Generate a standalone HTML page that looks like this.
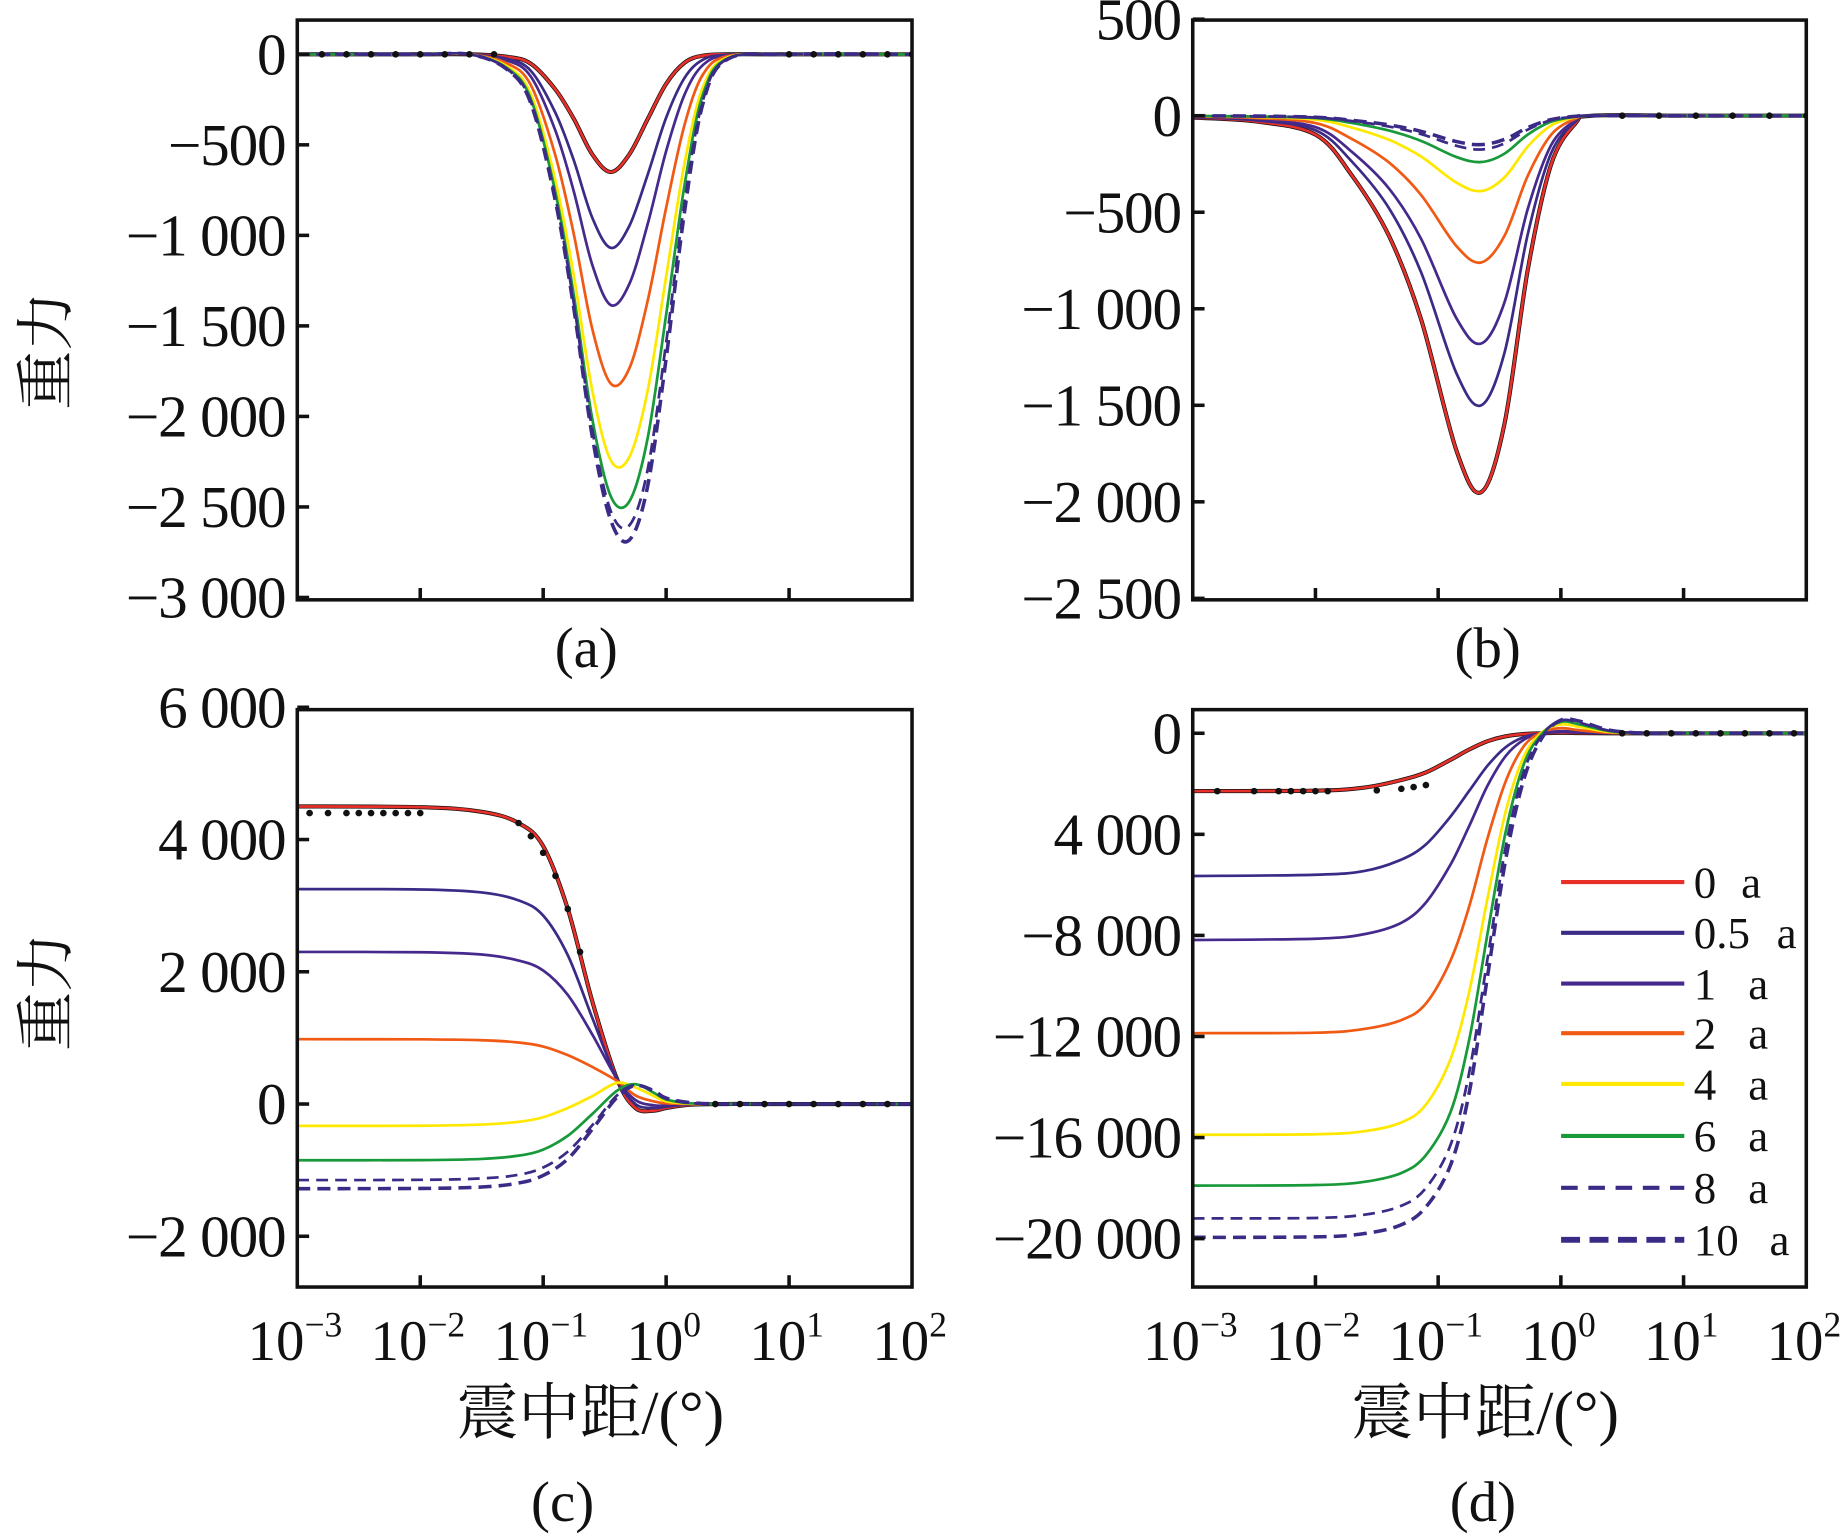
<!DOCTYPE html>
<html><head><meta charset="utf-8"><style>
html,body{margin:0;padding:0;background:#fff;}
svg{display:block;}
text{font-family:"Liberation Serif","Noto Serif CJK SC",serif;fill:#111;}
.cjk{font-family:"Liberation Serif","Noto Serif CJK SC","Noto Sans CJK SC",serif;}
</style></head><body>
<svg id="fig" width="1843" height="1535" viewBox="0 0 1556 1300" preserveAspectRatio="none" xmlns="http://www.w3.org/2000/svg"></svg>
<script>
const seriesNames=["0 a","0.5 a","1 a","2 a","4 a","6 a","8 a","10 a"];
const colors=["#e8302a","#3b2a86","#46298c","#f05a14","#ffe800","#18993a","#3b2a86","#3b2a86"];
const xTickExps=["-3","-2","-1","0","1","2"];
// panel a
const gridA=[-3,-2,-1.6,-1.3,-1.1,-0.9,-0.75,-0.6,-0.45,-0.3,-0.15,0,0.15,0.3,0.5,1,2];
const a0=[0,0,0,-13,-52,-195,-358,-553,-650,-553,-358,-163,-46,-7,0,0,0];
const a05=[0,0,0,-24,-91,-324,-588,-903,-1069,-948,-665,-350,-130,-30,-2,0,0];
const a1=[0,0,0,-33,-123,-423,-761,-1164,-1385,-1269,-938,-535,-222,-59,-5,0,0];
const a2=[0,0,0,-48,-170,-561,-998,-1518,-1819,-1735,-1362,-848,-388,-111,-10,0,0];
const a4=[0,0,0,-64,-221,-699,-1229,-1858,-2243,-2225,-1858,-1229,-600,-181,-17,0,0];
const a6=[0,0,0,-73,-247,-765,-1337,-2016,-2442,-2470,-2120,-1439,-720,-221,-22,0,0];
const a8=[0,0,0,-78,-262,-795,-1382,-2076,-2524,-2602,-2294,-1594,-815,-253,-25,0,0];
const a10=[0,0,0,-81,-271,-813,-1409,-2114,-2575,-2683,-2385,-1680,-867,-271,-27,0,0];
const aTicks=[0,-500,-1000,-1500,-2000,-2500,-3000];
const aTickLabels=["0","\u2212500","\u22121 000","\u22121 500","\u22122 000","\u22122 500","\u22123 000"];
// panel b
const gridB=[-3,-2.5,-2,-1.7,-1.4,-1.14,-0.85,-0.65,-0.46,-0.27,-0.08,0.12,0.26,1,2];
const b0=[-10,-29,-98,-312,-624,-1053,-1736,-1950,-1599,-800,-254,-39,0,0,0];
const b05=[-8,-23,-75,-240,-480,-810,-1335,-1500,-1230,-615,-195,-30,0,0,0];
const b1=[-6,-18,-59,-189,-378,-637,-1050,-1180,-968,-484,-153,-24,0,0,0];
const b2=[-4,-11,-38,-122,-243,-410,-676,-760,-623,-312,-99,-15,0,0,0];
const b4=[-2,-6,-20,-62,-125,-211,-347,-390,-320,-160,-51,-8,0,0,0];
const b6=[-1,-4,-12,-38,-77,-130,-214,-240,-197,-98,-31,-5,0,0,0];
const b8=[-1,-3,-9,-28,-56,-95,-156,-175,-144,-72,-23,-4,0,0,0];
const b10=[-1,-2,-8,-24,-48,-81,-134,-150,-123,-62,-20,-3,0,0,0];
const bTicks=[500,0,-500,-1000,-1500,-2000,-2500];
const bTickLabels=["500","0","\u2212500","\u22121 000","\u22121 500","\u22122 000","\u22122 500"];
// panel c
const gridC=[-3,-2,-1.5,-1.2,-1,-0.8,-0.6,-0.4,-0.25,-0.1,0,0.2,0.5,1,2];
const c0=[4500,4490,4420,4250,3900,2950,1550,380,-60,-100,-60,-10,0,0,0];
const c05=[3250,3245,3200,3080,2850,2250,1300,380,0,-60,-40,-5,0,0,0];
const c1=[2300,2295,2260,2170,2020,1650,1050,380,60,-20,-20,0,0,0,0];
const c2=[980,978,965,930,870,740,560,350,130,40,10,0,0,0,0];
const c4=[-330,-328,-310,-270,-200,-60,120,320,250,120,40,5,0,0,0];
const c6=[-850,-848,-830,-780,-690,-480,-150,200,300,170,70,10,0,0,0];
const c8=[-1150,-1147,-1125,-1070,-960,-720,-320,130,290,190,80,15,0,0,0];
const c10=[-1280,-1277,-1255,-1195,-1080,-830,-380,100,280,200,90,20,0,0,0];
const cTicks=[6000,4000,2000,0,-2000];
const cTickLabels=["6 000","4 000","2 000","0","\u22122 000"];
// panel d
const gridD=[-3,-2,-1.6,-1.3,-1.1,-0.9,-0.75,-0.6,-0.45,-0.3,-0.15,0,0.15,0.4,0.7,1,2];
const d0=[-2290,-2270,-2150,-1850,-1550,-1050,-650,-320,-120,-30,0,20,10,0,0,0,0];
const d05=[-5650,-5600,-5450,-5000,-4400,-3300,-2300,-1300,-550,-150,0,50,30,0,0,0,0];
const d1=[-8180,-8130,-7950,-7500,-6700,-5200,-3700,-2100,-900,-250,0,80,50,10,0,0,0];
const d2=[-11870,-11850,-11700,-11350,-10700,-9000,-6900,-4200,-1900,-500,50,200,120,20,0,0,0];
const d4=[-15890,-15870,-15750,-15400,-14700,-12900,-10300,-6600,-3100,-900,50,350,250,50,0,0,0];
const d6=[-17900,-17880,-17750,-17400,-16700,-15000,-12200,-8000,-3900,-1200,0,450,350,80,0,0,0];
const d8=[-19200,-19180,-19050,-18700,-18000,-16300,-13500,-9000,-4500,-1500,-50,500,420,100,0,0,0];
const d10=[-19950,-19930,-19800,-19450,-18750,-17100,-14300,-9700,-5000,-1800,-150,520,480,120,0,0,0];
const dTicks=[0,-4000,-8000,-12000,-16000,-20000];
const dTickLabels=["0","4 000","\u22128 000","\u221212 000","\u221216 000","\u221220 000"];
// observed dots (log10 x, value)
const obsAx=[-2.8,-2.6,-2.4,-2.2,-2.0,-1.8,-1.6,-1.4,1.0,1.2,1.4,1.6,1.8,2.0];
const obsCx=[-2.9,-2.75,-2.6,-2.5,-2.4,-2.3,-2.2,-2.1,-2.0,-1.2,-1.1,-1.0,-0.9,-0.8,-0.7,0.4,0.6,0.8,1.0,1.2,1.4,1.6,1.8];
const obsCv=[4400,4400,4400,4400,4400,4400,4400,4400,4400,4250,4050,3800,3450,2950,2300,0,0,0,0,0,0,0,0];
const obsDx=[-2.8,-2.5,-2.3,-2.2,-2.1,-2.0,-1.9,-1.5,-1.3,-1.2,-1.1,0.5,0.7,0.9,1.1,1.3,1.5,1.7,1.9];
const obsDv=[-2290,-2290,-2290,-2290,-2290,-2290,-2290,-2260,-2200,-2130,-2050,0,0,0,0,0,0,0,0];

const NS="http://www.w3.org/2000/svg";
const svg=document.getElementById('fig');
function el(tag,attrs,parent){const e=document.createElementNS(NS,tag);for(const k in attrs)e.setAttribute(k,attrs[k]);(parent||svg).appendChild(e);return e;}

function pathFrom(pts){
  let d="M"+pts[0][0].toFixed(1)+","+pts[0][1].toFixed(1);
  for(let i=0;i<pts.length-1;i++){
    const p0=pts[Math.max(0,i-1)],p1=pts[i],p2=pts[i+1],p3=pts[Math.min(pts.length-1,i+2)];
    const c1x=p1[0]+(p2[0]-p0[0])/6,c1y=p1[1]+(p2[1]-p0[1])/6;
    const c2x=p2[0]-(p3[0]-p1[0])/6,c2y=p2[1]-(p3[1]-p1[1])/6;
    d+=" C"+c1x.toFixed(1)+","+c1y.toFixed(1)+" "+c2x.toFixed(1)+","+c2y.toFixed(1)+" "+p2[0].toFixed(1)+","+p2[1].toFixed(1);
  }
  return d;
}

function panel(cfg){
  const g=el('g',{});
  
  
  const L=cfg.L,R=cfg.R,T=cfg.T,B=cfg.B;
  const xs=lx=>L+(lx+3)/5*(R-L);
  const ys=v=>cfg.y0+(v-cfg.v0)*(cfg.y1-cfg.y0)/(cfg.v1-cfg.v0);
  const clip=el('clipPath',{id:'clip-'+cfg.name},g);
  el('rect',{x:L,y:T,width:R-L,height:B-T},clip);
  const cg=el('g',{'clip-path':'url(#clip-'+cfg.name+')'},g);
  const blk=el('path',{d:pathFrom(cfg.grid.map((lx,i)=>[xs(lx),ys(cfg.series[0][i])])),fill:'none',stroke:'#111','stroke-width':3.5},cg);
  
  
  for(let s=0;s<8;s++){
    const p=el('path',{d:pathFrom(cfg.grid.map((lx,i)=>[xs(lx),ys(cfg.series[s][i])])),fill:'none',stroke:colors[s],'stroke-width':s==7?3:2.3},cg);
    if(s==6)p.setAttribute('stroke-dasharray','10 6');
    if(s==7)p.setAttribute('stroke-dasharray','11 6');
    
    
  }
  if(cfg.obsX){
    cfg.obsX.forEach((lx,i)=>{
      const c=el('circle',{cx:xs(lx),cy:ys(cfg.obsV[i]),r:2.8,fill:'#111'},cg);
      
      
    });
  }
  const fr=el('rect',{x:L,y:T,width:R-L,height:B-T,fill:'none',stroke:'#111','stroke-width':3},g);
  
  
  cfg.ticks.forEach((v,i)=>{
    const y=ys(v);
    el('line',{x1:L,x2:L+10,y1:y,y2:y,stroke:'#111','stroke-width':3},g);
    const t=el('text',{x:L-10,y:y+17,'text-anchor':'end','font-size':50,'letter-spacing':'-1'},g);
    t.textContent=cfg.tickLabels[i];
    
    
  });
  for(let k=1;k<5;k++){
    const x=xs(k-3);
    el('line',{x1:x,x2:x,y1:B,y2:B-10,stroke:'#111','stroke-width':3},g);
  }
  if(cfg.xlabels){
    xTickExps.forEach((e,k)=>{
      const x=xs(k-3);
      const t=el('text',{x:x-2,y:B+62,'text-anchor':'middle','font-size':48},g);
      t.textContent="10";
      const sp=el('tspan',{'font-size':30,dy:-20},t);
      sp.textContent=e.replace('-','\u2212');
      
      
    });
    const xt=el('text',{x:(L+R)/2-12,y:B+124,'text-anchor':'middle','font-size':52,class:'cjk'},g);
    xt.textContent="震中距/(°)";
    
    
  }
  const cap=el('text',{x:cfg.capX,y:cfg.capY,'text-anchor':'middle','font-size':48},g);
  cap.textContent=cfg.cap;
  
  
  if(cfg.ylabel){
    const yt=el('text',{x:0,y:0,'text-anchor':'middle','font-size':50,class:'cjk',transform:'translate(56,'+cfg.ylabelY+') rotate(-90)'},g);
    yt.textContent="重力";
    
    
  }
}

panel({name:'panel-a',L:251,R:770,T:17,B:508,y0:46,v0:0,y1:506,v1:-3000,grid:gridA,series:[a0,a05,a1,a2,a4,a6,a8,a10],ticks:aTicks,tickLabels:aTickLabels,cap:"(a)",capX:495,capY:565,ylabel:true,ylabelY:297,obsX:obsAx,obsV:obsAx.map(()=>0)});
panel({name:'panel-b',L:1007,R:1525,T:17,B:508,y0:98,v0:0,y1:425,v1:-2000,grid:gridB,series:[b0,b05,b1,b2,b4,b6,b8,b10],ticks:bTicks,tickLabels:bTickLabels,cap:"(b)",capX:1256,capY:565,obsX:[0.5,0.8,1.1,1.4,1.7,2.0],obsV:[0,0,0,0,0,0]});
panel({name:'panel-c',L:251,R:770,T:601,B:1090,y0:935,v0:0,y1:711,v1:4000,grid:gridC,series:[c0,c05,c1,c2,c4,c6,c8,c10],ticks:cTicks,tickLabels:cTickLabels,cap:"(c)",capX:475,capY:1288,xlabels:true,ylabel:true,ylabelY:840,obsX:obsCx,obsV:obsCv});
panel({name:'panel-d',L:1007,R:1525,T:601,B:1090,y0:621,v0:0,y1:1049,v1:-20000,grid:gridD,series:[d0,d05,d1,d2,d4,d6,d8,d10],ticks:dTicks,tickLabels:dTickLabels,cap:"(d)",capX:1252,capY:1288,xlabels:true,obsX:obsDx,obsV:obsDv});

const leg=el('g',{});


const legY=[747,790,833,875,918,962,1006,1050];
const legAx=[1470,1500,1476,1476,1476,1476,1476,1494];
seriesNames.forEach((n,i)=>{
  const ln=el('line',{x1:1318,x2:1422,y1:legY[i],y2:legY[i],stroke:colors[i],'stroke-width':i==7?5:3.5},leg);
  if(i==6)ln.setAttribute('stroke-dasharray','14 9');
  if(i==7)ln.setAttribute('stroke-dasharray','16 8');
  
  
  const parts=n.split(' ');
  const t=el('text',{x:1430,y:legY[i]+13,'font-size':38},leg);
  t.textContent=parts[0];
  const sp=el('tspan',{x:legAx[i]},t);
  sp.textContent=parts[1];
  
  
});
</script>
</body></html>
